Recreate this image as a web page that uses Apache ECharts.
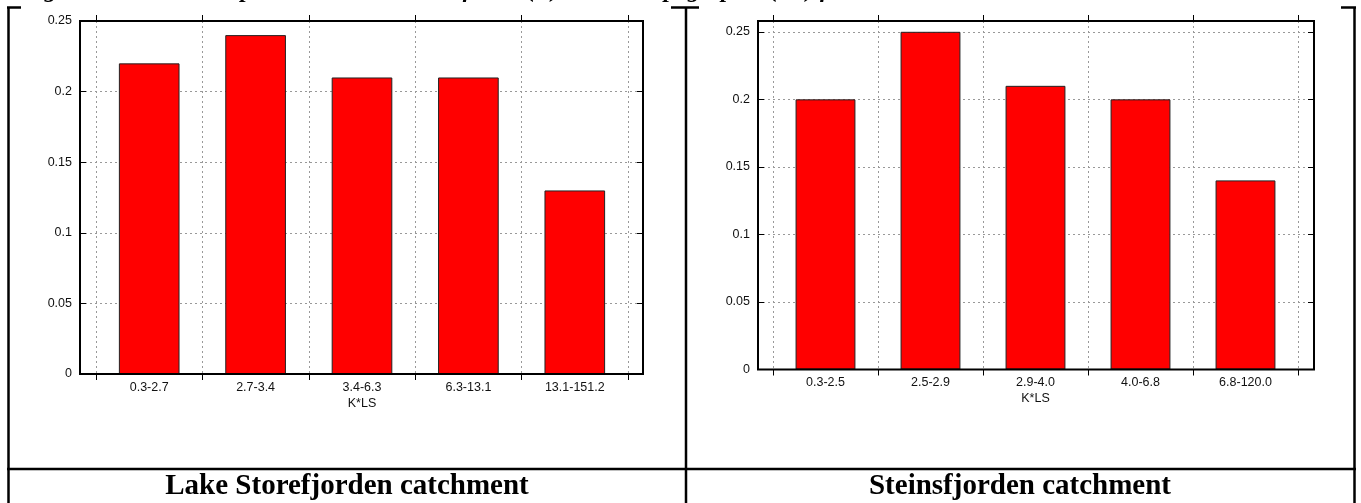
<!DOCTYPE html>
<html>
<head>
<meta charset="utf-8">
<script src="https://cdn.jsdelivr.net/npm/echarts@6/dist/echarts.min.js"></script>
<style>
    html, body {margin: 0; padding: 0; background: #fff;}
    #chart {width: 1361px; height: 503px;}
</style>
</head>
<body>
<div id="chart"></div>
<script>
// K*LS classes and proportions
var storeCats = ['0.3-2.7', '2.7-3.4', '3.4-6.3', '6.3-13.1', '13.1-151.2'];
var storeVals = [0.22, 0.24, 0.21, 0.21, 0.13];
var steinCats = ['0.3-2.5', '2.5-2.9', '2.9-4.0', '4.0-6.8', '6.8-120.0'];
var steinVals = [0.20, 0.25, 0.21, 0.20, 0.14];
var storeMax = 0.25;
var steinMax = 0.258;
var xName = 'K*LS';
var captions = ['Lake Storefjorden catchment', 'Steinsfjorden catchment'];
var titleText = 'Figure 5. Sediment export related to the soil factor (K) and the topographic (LS) factor';

var chart = echarts.init(document.getElementById('chart'));
var labelFont = {color: '#111', fontSize: 12.5, fontFamily: 'Liberation Sans, Arial, sans-serif'};
var dotted = {color: '#999', type: [2, 3], width: 1};

function yLabel(v) {
    var r = Math.round(v * 100) / 100;
    if (Math.abs(r * 20 - Math.round(r * 20)) > 1e-6 || Math.abs(v - r) > 1e-6) return '';
    return String(r);
}

// frame grid (y axis, horizontal grid lines) + bar grid (categories)
function panel(idx, frame, inner, cats, vals, max) {
    var g0 = idx * 2, g1 = idx * 2 + 1;
    return {
        grid: [
            {left: frame[0], width: frame[1] - frame[0], top: frame[2], height: frame[3] - frame[2],
                show: true, borderColor: '#000', borderWidth: 2, backgroundColor: 'transparent', z: 5},
            {left: inner[0], width: inner[1] - inner[0], top: frame[2], height: frame[3] - frame[2]}
        ],
        xAxis: [
            {type: 'value', gridIndex: g0, show: false, min: 0, max: 1},
            {type: 'category', gridIndex: g1, data: cats, boundaryGap: true,
                axisLine: {show: false},
                axisTick: {show: true, length: 6, lineStyle: {color: '#000'}},
                splitLine: {show: true, lineStyle: dotted},
                axisLabel: Object.assign({margin: 7, interval: 0}, labelFont),
                name: xName, nameLocation: 'middle', nameGap: 23, nameMoveOverlap: false,
                nameTextStyle: labelFont},
            {type: 'category', gridIndex: g1, data: cats, position: 'top', boundaryGap: true,
                axisLine: {show: false}, axisLabel: {show: false},
                axisTick: {show: true, length: 6, lineStyle: {color: '#000'}}}
        ],
        yAxis: [
            {type: 'value', gridIndex: g0, min: 0, max: max, interval: 0.05,
                axisLine: {show: false},
                axisTick: {show: true, inside: true, length: 6, lineStyle: {color: '#000'}},
                splitLine: {show: true, showMinLine: false, showMaxLine: false, lineStyle: dotted},
                axisLabel: Object.assign({margin: 8, formatter: yLabel, showMaxLabel: max === 0.25}, labelFont)},
            {type: 'value', gridIndex: g0, min: 0, max: max, interval: 0.05, position: 'right',
                axisLine: {show: false}, axisLabel: {show: false}, splitLine: {show: false},
                axisTick: {show: true, inside: true, length: 6, lineStyle: {color: '#000'}}},
            {type: 'value', gridIndex: g1, min: 0, max: max, show: false}
        ],
        series: [{
            type: 'bar',
            xAxisIndex: idx * 3 + 1,
            yAxisIndex: idx * 3 + 2,
            data: vals,
            barWidth: '57%',
            itemStyle: {color: '#ff0000', borderColor: '#222', borderWidth: 1},
            silent: true
        }]
    };
}

var p1 = panel(0, [80, 643, 21, 374], [96, 628], storeCats, storeVals, storeMax);
var p2 = panel(1, [758, 1314, 21, 369.5], [773, 1298], steinCats, steinVals, steinMax);

var line = {stroke: '#000', lineWidth: 2.5};
var capFont = 'bold 29px "Liberation Serif", "Times New Roman", serif';

chart.setOption({
    animation: false,
    grid: p1.grid.concat(p2.grid),
    xAxis: p1.xAxis.concat(p2.xAxis),
    yAxis: p1.yAxis.concat(p2.yAxis),
    series: p1.series.concat(p2.series),
    graphic: [
        // cut-off figure title
        {type: 'text', left: 22, top: -21, silent: true,
            style: {text: titleText, font: 'bold italic 24px "Liberation Serif", serif', fill: '#000'}},
        // table lines
        {type: 'line', shape: {x1: 8.5, y1: 7.5, x2: 8.5, y2: 503}, style: line},
        {type: 'line', shape: {x1: 7, y1: 7.5, x2: 21, y2: 7.5}, style: line},
        {type: 'line', shape: {x1: 686, y1: 7.5, x2: 686, y2: 503}, style: line},
        {type: 'line', shape: {x1: 671, y1: 7.5, x2: 699, y2: 7.5}, style: line},
        {type: 'line', shape: {x1: 1354.5, y1: 7.5, x2: 1354.5, y2: 503}, style: line},
        {type: 'line', shape: {x1: 1341, y1: 7.5, x2: 1356, y2: 7.5}, style: line},
        {type: 'line', shape: {x1: 7, y1: 469, x2: 1356, y2: 469}, style: line},
        {type: 'text', x: 347, y: 487, silent: true,
            style: {text: captions[0], font: capFont, fill: '#000', align: 'center', verticalAlign: 'middle'}},
        {type: 'text', x: 1020, y: 487, silent: true,
            style: {text: captions[1], font: capFont, fill: '#000', align: 'center', verticalAlign: 'middle'}}
    ]
});
</script>
</body>
</html>
